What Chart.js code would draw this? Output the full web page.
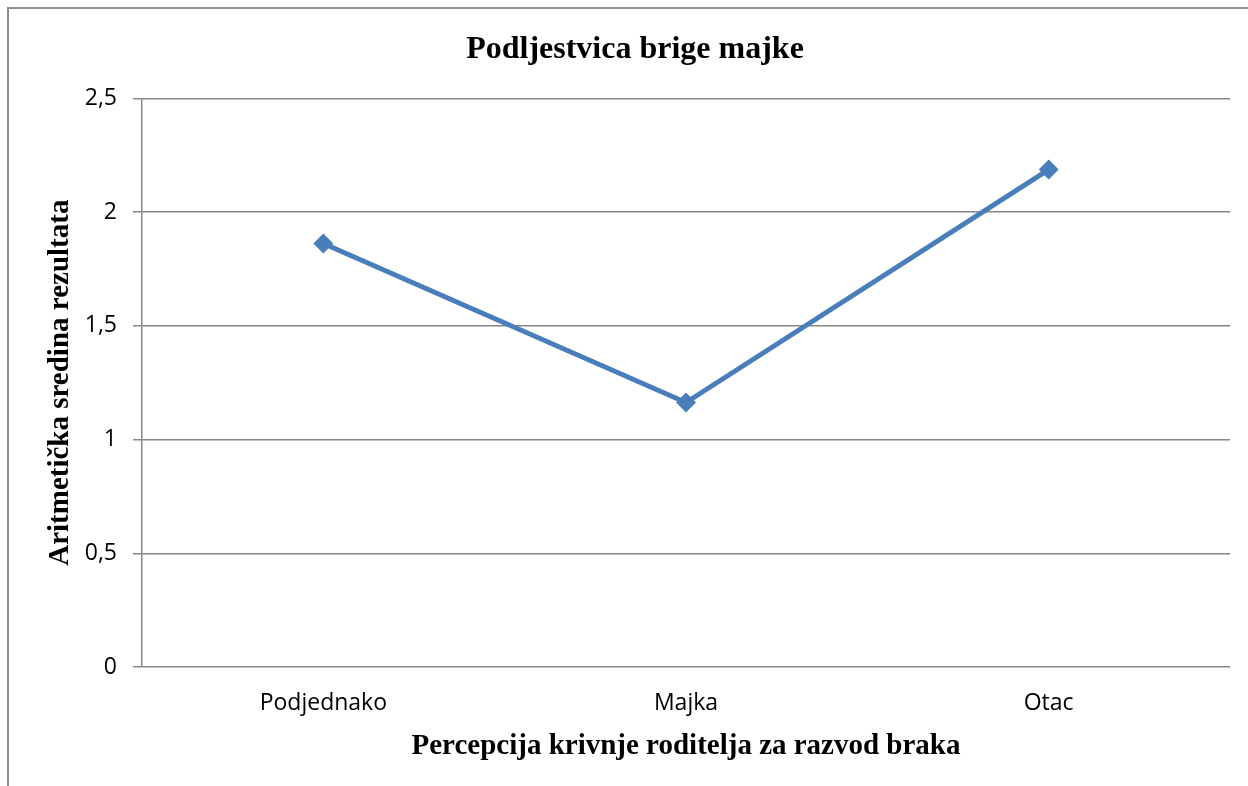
<!DOCTYPE html>
<html>
<head>
<meta charset="utf-8">
<script src="https://cdn.jsdelivr.net/npm/chart.js@4/dist/chart.umd.min.js"></script>
<style>
  html, body { margin: 0; padding: 0; background: #fff; }
  #wrap { position: relative; width: 1248px; height: 786px; }
  #frame { position: absolute; left: 7px; top: 7px; width: 1300px; height: 900px;
           border-left: 2px solid #8c8c8c; border-top: 2px solid #8c8c8c; box-sizing: border-box; }
  canvas { position: absolute; left: 0; top: 0; }
</style>
</head>
<body>
<div id="wrap">
  <div id="frame"></div>
  <canvas id="c" width="1248" height="786"></canvas>
</div>
<script>
const chartTitle = 'Podljestvica brige majke';
const xTitle = 'Percepcija krivnje roditelja za razvod braka';
const yTitle = 'Aritmetička sredina rezultata';
const categories = ['Podjednako', 'Majka', 'Otac'];
const values = [1.862, 1.163, 2.187];
const yTickLabels = ['0', '0,5', '1', '1,5', '2', '2,5'];

const serif = '"Liberation Serif", "Times New Roman", serif';
const sans = '"Open Sans", "Noto Sans", sans-serif';

new Chart(document.getElementById('c'), {
  type: 'line',
  data: {
    labels: categories,
    datasets: [{
      data: values,
      borderColor: '#4A7EBB',
      backgroundColor: '#4A7EBB',
      borderWidth: 5,
      pointStyle: 'rectRot',
      pointRadius: 10,
      pointHoverRadius: 10,
      pointBorderWidth: 0,
      tension: 0,
      fill: false
    }]
  },
  options: {
    responsive: false,
    animation: false,
    events: [],
    layout: { padding: { left: 40, right: 18, top: 0, bottom: 0 } },
    plugins: {
      legend: { display: false },
      tooltip: { enabled: false },
      title: {
        display: true,
        text: chartTitle,
        color: '#000',
        font: { family: serif, size: 32, weight: 'bold', lineHeight: 1.2 },
        padding: { top: 31, bottom: 29 }
      }
    },
    scales: {
      x: {
        offset: true,
        grid: { display: false, drawTicks: false },
        border: { display: false },
        ticks: { color: '#000', font: { family: sans, size: 23 }, padding: 23 },
        title: {
          display: true,
          text: xTitle,
          color: '#000',
          font: { family: serif, size: 29, weight: 'bold', lineHeight: 1.2 },
          padding: { top: 0, bottom: 22 }
        },
        afterFit: (s) => { s.height = 119; }
      },
      y: {
        min: 0,
        max: 2.5,
        ticks: {
          stepSize: 0.5,
          color: '#000',
          font: { family: sans, size: 23 },
          padding: 16,
          callback: (v, i) => yTickLabels[i]
        },
        grid: { color: '#868686', lineWidth: 1.5, tickLength: 9, drawTicks: true },
        border: { display: true, color: '#868686', width: 1.5 },
        title: {
          display: true,
          text: yTitle,
          color: '#000',
          font: { family: serif, size: 29, weight: 'bold', lineHeight: 1.2 },
          padding: { top: 3, bottom: 0 }
        },
        afterFit: (s) => { s.width = 102; }
      }
    }
  }
});
</script>
</body>
</html>
